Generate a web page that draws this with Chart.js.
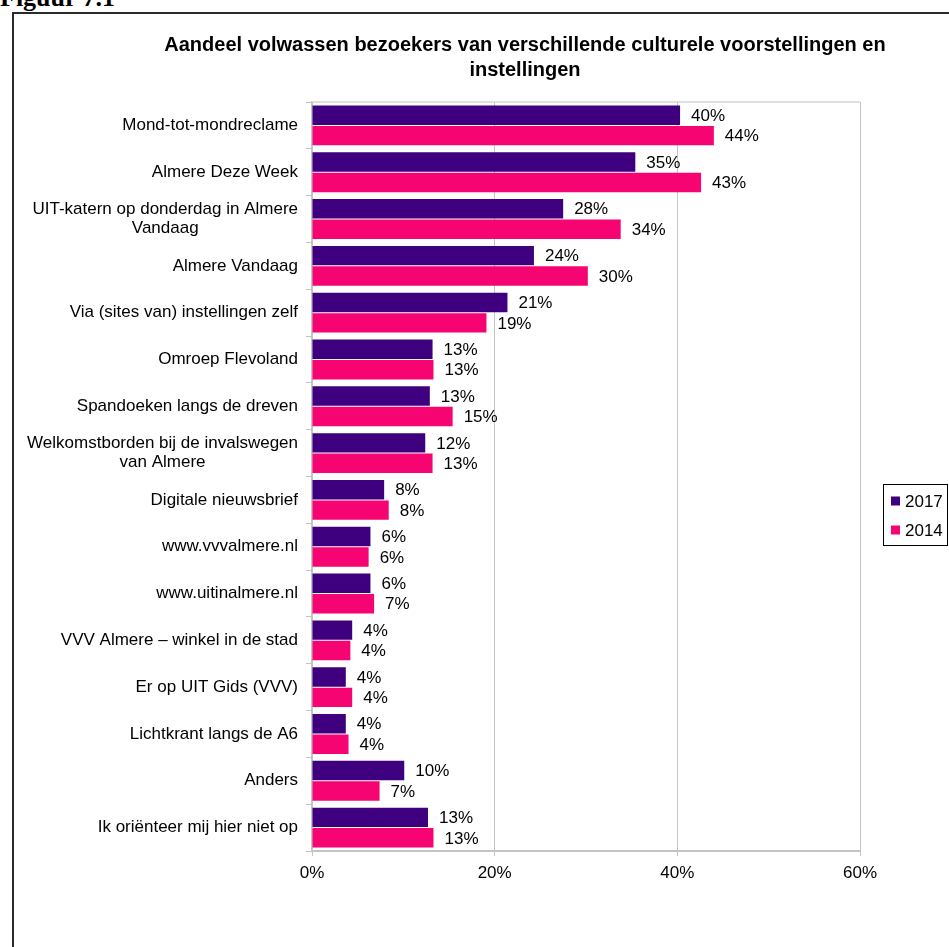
<!DOCTYPE html>
<html>
<head>
  <meta charset="UTF-8">
  <title>Figuur 7.1</title>
  <script src="https://cdn.jsdelivr.net/npm/chart.js"></script>
  <style>
    body {
      margin: 0;
      background: white;
      overflow: hidden;
    }

    .frame {
      position: absolute;
      left: 12px;
      top: 12px;
      width: 1000px;
      height: 1000px;
      border: 2px solid #2b2b2b;
    }

    .fig {
      position: absolute;
      left: 0;
      top: -15px;
      font: bold 26px "Liberation Serif", serif;
      line-height: 26px;
    }

    canvas {
      position: absolute;
      left: 0;
      top: 0;
    }
  </style>
</head>
<body>
  <div class="fig">Figuur 7.1</div>
  <div class="frame"></div>
  <canvas id="mainChart" width="949" height="947"></canvas>

  <script>
    const categories = [
      ['Mond-tot-mondreclame'],
      ['Almere Deze Week'],
      ['UIT-katern op donderdag in Almere', 'Vandaag'],
      ['Almere Vandaag'],
      ['Via (sites van) instellingen zelf'],
      ['Omroep Flevoland'],
      ['Spandoeken langs de dreven'],
      ['Welkomstborden bij de invalswegen', 'van Almere'],
      ['Digitale nieuwsbrief'],
      ['www.vvvalmere.nl'],
      ['www.uitinalmere.nl'],
      ['VVV Almere – winkel in de stad'],
      ['Er op UIT Gids (VVV)'],
      ['Lichtkrant langs de A6'],
      ['Anders'],
      ['Ik oriënteer mij hier niet op']
    ];

    const values2017 = [40.3, 35.4, 27.5, 24.3, 21.4, 13.2, 12.9, 12.4, 7.9, 6.4, 6.4, 4.4, 3.7, 3.7, 10.1, 12.7];
    const values2014 = [44.0, 42.6, 33.8, 30.2, 19.1, 13.3, 15.4, 13.2, 8.4, 6.2, 6.8, 4.2, 4.4, 4.0, 7.4, 13.3];
    const seriesNames = ['2017', '2014'];
    const xTicks = [0, 20, 40, 60];
    const titleLines = [
      'Aandeel volwassen bezoekers van verschillende culturele voorstellingen en',
      'instellingen'
    ];

    const purple = '#3f007f';
    const pink = '#f70473';
    const font = '"Liberation Sans", Arial, sans-serif';

    const decor = {
      id: 'decor',
      beforeDatasetsDraw(chart) {
        // grey line along the top of the plot area
        const { ctx, chartArea } = chart;
        ctx.save();
        ctx.strokeStyle = '#d4d4d4';
        ctx.lineWidth = 1.5;
        ctx.beginPath();
        ctx.moveTo(chartArea.left, chartArea.top);
        ctx.lineTo(chartArea.right, chartArea.top);
        ctx.stroke();
        ctx.restore();
      },
      afterDatasetsDraw(chart) {
        const ctx = chart.ctx;
        ctx.save();
        ctx.font = '17px ' + font;
        ctx.fillStyle = '#000';
        ctx.textAlign = 'left';
        ctx.textBaseline = 'middle';
        chart.data.datasets.forEach((ds, d) => {
          chart.getDatasetMeta(d).data.forEach((bar, i) => {
            ctx.fillText(Math.round(ds.data[i]) + '%', bar.x + 11, bar.y + 1);
          });
        });
        ctx.restore();
      },
      afterDraw(chart) {
        const ctx = chart.ctx;
        const yScale = chart.scales.y;
        ctx.save();

        // title, wider than the plot so drawn here
        ctx.font = 'bold 20px ' + font;
        ctx.fillStyle = '#000';
        ctx.textAlign = 'center';
        ctx.textBaseline = 'middle';
        titleLines.forEach((t, k) => ctx.fillText(t, 525, 45 + k * 25));

        // category labels: block right-aligned, lines centred
        ctx.font = '17px ' + font;
        const rightX = chart.chartArea.left - 14;
        const lh = 19;
        categories.forEach((lines, i) => {
          const y = yScale.getPixelForTick(i);
          const w = Math.max(...lines.map(l => ctx.measureText(l).width));
          const cx = rightX - w / 2;
          const y0 = y - (lines.length - 1) * lh / 2;
          lines.forEach((l, k) => ctx.fillText(l, cx, y0 + k * lh));
        });

        // legend
        ctx.strokeStyle = '#000';
        ctx.lineWidth = 1;
        ctx.strokeRect(883.5, 484.5, 64, 61);
        ctx.textAlign = 'left';
        seriesNames.forEach((name, k) => {
          const cy = 501 + k * 29;
          ctx.fillStyle = chart.data.datasets[k].backgroundColor;
          ctx.fillRect(891, cy - 4.5, 9, 9);
          ctx.fillStyle = '#000';
          ctx.fillText(name, 905, cy + 1);
        });
        ctx.restore();
      }
    };

    const ctx = document.getElementById('mainChart').getContext('2d');
    new Chart(ctx, {
      type: 'bar',
      data: {
        labels: categories.map(c => c.join(' ')),
        datasets: [
          { label: seriesNames[0], data: values2017, backgroundColor: purple },
          { label: seriesNames[1], data: values2014, backgroundColor: pink }
        ]
      },
      options: {
        indexAxis: 'y',
        responsive: false,
        animation: false,
        datasets: {
          bar: { categoryPercentage: 0.875, barPercentage: 0.95 }
        },
        layout: {
          padding: { left: 190, right: 89, top: 102, bottom: 56 }
        },
        scales: {
          x: {
            min: 0,
            max: 60,
            afterBuildTicks: scale => {
              scale.ticks = xTicks.map(v => ({ value: v }));
            },
            afterFit: scale => { scale.height = 40; },
            grid: { color: '#c4c4c4', lineWidth: 1, tickLength: 5 },
            border: { color: '#c4c4c4', width: 2 },
            ticks: {
              color: '#000',
              font: { family: font, size: 17 },
              padding: 7,
              callback: v => v + '%'
            }
          },
          y: {
            afterFit: scale => { scale.width = 122; },
            grid: { drawOnChartArea: false, color: '#c4c4c4', tickLength: 6 },
            border: { color: '#c4c4c4', width: 2 },
            ticks: { display: false }
          }
        },
        plugins: {
          legend: { display: false },
          tooltip: { enabled: false },
          title: { display: false }
        }
      },
      plugins: [decor]
    });
  </script>
</body>
</html>
